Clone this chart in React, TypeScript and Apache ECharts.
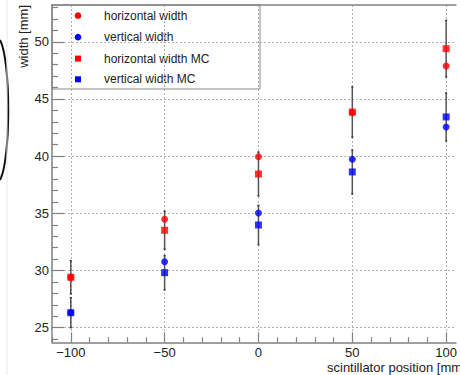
import React, { useEffect, useRef } from "react";
import * as echarts from "echarts";

const positions = [-100, -50, 0, 50, 100];
const horizontalWidth = [29.4, 34.48, 39.95, 43.8, 47.89];
const verticalWidth = [26.3, 30.77, 35.03, 39.73, 42.55];
const horizontalWidthMC = [29.41, 33.52, 38.44, 43.86, 49.4];
const verticalWidthMC = [26.31, 29.81, 33.98, 38.62, 43.43];
const horizontalErrMC = [1.44, 1.66, 1.92, 2.2, 2.47];
const verticalErrMC = [1.31, 1.49, 1.71, 1.92, 2.1];

const seriesNames = ["horizontal width", "vertical width", "horizontal width MC", "vertical width MC"];
const seriesColors = ["#ff0000", "#0000ff", "#ff0000", "#0000ff"];
const seriesSymbols = ["circle", "circle", "rect", "rect"];

const xMajorTicks = [-100, -50, 0, 50, 100];
const xMinorTicks = [-110, -90, -80, -70, -60, -40, -30, -20, -10, 10, 20, 30, 40, 60, 70, 80, 90];
const yMajorTicks = [25, 30, 35, 40, 45, 50];
const yMinorTicks = [24, 26, 27, 28, 29, 31, 32, 33, 34, 36, 37, 38, 39, 41, 42, 43, 44, 46, 47, 48, 49, 51, 52, 53];

const xTitle = "scintillator position [mm]";
const yTitle = "width [mm]";
const FONT = "'Liberation Sans', Arial, Helvetica, sans-serif";
const AXIS_COLOR = "#808080";

function pts(xs: number[], ys: number[]) {
  return xs.map((x, i) => [x, ys[i]]);
}
function errPts(xs: number[], ys: number[], es: number[]) {
  return xs.map((x, i) => [x, ys[i], es[i]]);
}

const errorRender = (params: any, api: any) => {
  const x = api.value(0);
  const y = api.value(1);
  const e = api.value(2);
  const top = api.coord([x, y + e]);
  const bot = api.coord([x, y - e]);
  const st = { stroke: "#555", lineWidth: 1.5 };
  return {
    type: "group",
    children: [
      { type: "line", shape: { x1: top[0], y1: top[1], x2: bot[0], y2: bot[1] }, style: st },
      { type: "line", shape: { x1: top[0] - 1, y1: top[1], x2: top[0] + 1, y2: top[1] }, style: { stroke: "#333", lineWidth: 1.5 } },
      { type: "line", shape: { x1: bot[0] - 1, y1: bot[1], x2: bot[0] + 1, y2: bot[1] }, style: { stroke: "#333", lineWidth: 1.5 } },
    ],
  };
};

function legendGraphic() {
  const rowY = [15.7, 37.2, 58.6, 79.3];
  const children: any[] = [
    { type: "rect", shape: { x: 52, y: 5, width: 208, height: 84 }, style: { fill: "#fff", stroke: "#888", lineWidth: 1 } },
  ];
  seriesNames.forEach((name, i) => {
    const cy = rowY[i];
    if (seriesSymbols[i] === "circle") {
      children.push({ type: "circle", shape: { cx: 78, cy, r: 3.3 }, style: { fill: seriesColors[i] } });
    } else {
      children.push({ type: "rect", shape: { x: 75, y: cy - 3, width: 6, height: 6 }, style: { fill: seriesColors[i] } });
    }
    children.push({
      type: "text", x: 104, y: cy,
      style: { text: name, fontSize: 12, fontFamily: FONT, fill: "#222", textAlign: "left", textVerticalAlign: "middle" },
    });
  });
  return { type: "group", z: 10, children };
}

export default function App() {
  const ref = useRef<HTMLDivElement>(null);
  useEffect(() => {
    if (!ref.current) return;
    const chart = echarts.init(ref.current, undefined, { renderer: "svg" });
    const xMin = -110, xMax = 105.25, yMin = 23.72, yMax = 53.22;
    const minorX = (pos: string, ticks: boolean) => ({
      type: "value", min: xMin, max: xMax, position: pos,
      axisLine: { show: !ticks, onZero: false, lineStyle: { color: AXIS_COLOR, width: 1.5 } },
      axisTick: { show: ticks, inside: true, length: 5, customValues: xMinorTicks, lineStyle: { color: AXIS_COLOR, width: 1.2 } },
      axisLabel: { show: false },
      splitLine: { show: false },
    });
    const option: any = {
      animation: false,
      grid: { left: 52, top: 5, right: 0, height: 337.3, show: false },
      textStyle: { fontFamily: FONT },
      xAxis: [
        {
          type: "value", min: xMin, max: xMax, position: "bottom",
          axisLine: { show: true, onZero: false, lineStyle: { color: AXIS_COLOR, width: 1.5 } },
          axisTick: { show: true, inside: true, length: 10, customValues: xMajorTicks, lineStyle: { color: AXIS_COLOR, width: 1.2 } },
          axisLabel: {
            show: true, customValues: xMajorTicks, margin: 4, fontSize: 13, color: "#222", fontFamily: FONT,
            formatter: (v: number) => (v < 0 ? "\u2212" + Math.abs(v) : String(v)),
          },
          splitLine: { show: true, lineStyle: { color: "#b0b0b0", type: [2, 2], width: 1 } },
        },
        minorX("bottom", true),
        minorX("top", false),
      ],
      yAxis: [
        {
          type: "value", min: yMin, max: yMax, position: "left",
          axisLine: { show: true, onZero: false, lineStyle: { color: AXIS_COLOR, width: 1.5 } },
          axisTick: { show: true, inside: true, length: 12, customValues: yMajorTicks, lineStyle: { color: AXIS_COLOR, width: 1.2 } },
          axisLabel: { show: true, customValues: yMajorTicks, margin: 3, fontSize: 13, color: "#222", fontFamily: FONT },
          splitLine: { show: true, lineStyle: { color: "#b0b0b0", type: [2, 2], width: 1 } },
        },
        {
          type: "value", min: yMin, max: yMax, position: "left",
          axisLine: { show: false, onZero: false },
          axisTick: { show: true, inside: true, length: 6, customValues: yMinorTicks, lineStyle: { color: AXIS_COLOR, width: 1.2 } },
          axisLabel: { show: false },
          splitLine: { show: false },
        },
      ],
      graphic: [
        {
          type: "bezierCurve",
          shape: { x1: 0, y1: 40, cpx1: 11, cpy1: 60, cpx2: 11, cpy2: 160, x2: 0, y2: 180 },
          style: { stroke: "#111", lineWidth: 2, fill: null },
        },
        {
          type: "line",
          shape: { x1: 7, y1: 0, x2: 7, y2: 375 },
          style: { stroke: "#e8e8e8", lineWidth: 1 },
        },
        {
          type: "text",
          x: 327, y: 367,
          style: { text: xTitle, fontSize: 13, fontFamily: FONT, fill: "#222", textAlign: "left", textVerticalAlign: "middle" },
        },
        {
          type: "text",
          x: 23.5, y: 5,
          rotation: Math.PI / 2,
          style: { text: yTitle, fontSize: 13, fontFamily: FONT, fill: "#222", textAlign: "right", textVerticalAlign: "middle" },
        },
        legendGraphic(),
      ],
      series: [
        { name: "hErr", type: "custom", renderItem: errorRender, data: errPts(positions, horizontalWidthMC, horizontalErrMC), z: 2, encode: { x: 0, y: 1 } },
        { name: "vErr", type: "custom", renderItem: errorRender, data: errPts(positions, verticalWidthMC, verticalErrMC), z: 2, encode: { x: 0, y: 1 } },
        { name: seriesNames[0], type: "scatter", symbol: seriesSymbols[0], symbolSize: 7, itemStyle: { color: seriesColors[0] }, data: pts(positions, horizontalWidth), z: 3 },
        { name: seriesNames[1], type: "scatter", symbol: seriesSymbols[1], symbolSize: 7, itemStyle: { color: seriesColors[1] }, data: pts(positions, verticalWidth), z: 3 },
        { name: seriesNames[2], type: "scatter", symbol: seriesSymbols[2], symbolSize: 7, itemStyle: { color: seriesColors[2] }, data: pts(positions, horizontalWidthMC), z: 4 },
        { name: seriesNames[3], type: "scatter", symbol: seriesSymbols[3], symbolSize: 7, itemStyle: { color: seriesColors[3] }, data: pts(positions, verticalWidthMC), z: 4 },
      ],
    };
    chart.setOption(option);
    return () => chart.dispose();
  }, []);
  return (
    <div
      ref={ref}
      style={{ position: "fixed", left: 0, top: 0, width: 460, height: 375, background: "#fff" }}
    />
  );
}
